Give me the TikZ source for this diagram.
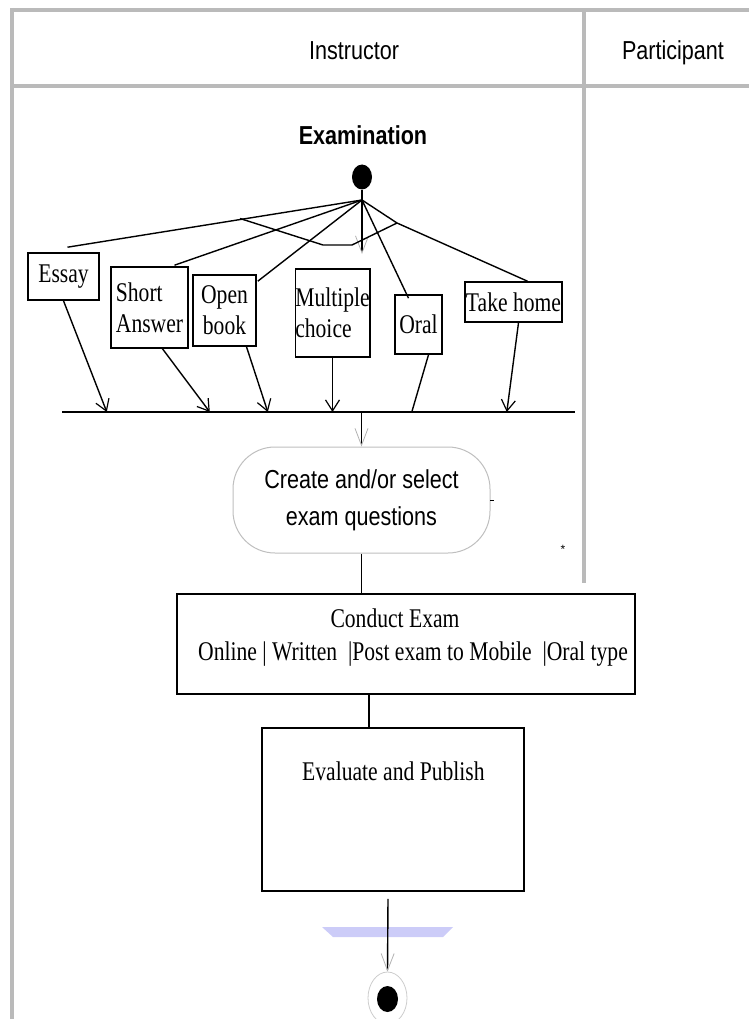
\documentclass[tikz,border=0pt]{standalone}
\usepackage{graphicx}
\usepackage{fontspec}
\setmainfont{Liberation Serif}
\newfontfamily\sansf{Liberation Sans}
\usetikzlibrary{arrows.meta,calc,shapes.geometric}
\newcommand\sqz[1]{\scalebox{0.8}[1]{#1}}
\newcommand\sqs[1]{\scalebox{0.83}[1]{#1}}
\newcommand\serifsz{\fontsize{27}{31}\selectfont}
\newcommand\sanssz{\sansf\fontsize{26}{37}\selectfont}
\definecolor{lav}{RGB}{204,204,248}
\begin{document}
\begin{tikzpicture}[x=1pt,y=-1pt,
  frame/.style={line width=3.5pt, draw=black!27},
  box/.style={draw, line width=1.6pt, inner sep=0pt, font=\serifsz},
  wire/.style={line width=1.4pt},
  tip/.style={-{Straight Barb[length=11pt,width=14pt,line width=1.2pt]}},
  gtip/.style={-{Straight Barb[length=17pt,width=13pt,line width=0.8pt,color=black!30]}},
  startdot/.style={ellipse, fill=black, inner sep=0pt, minimum width=20pt, minimum height=25pt},
  lbl/.style={inner sep=0pt}
]
\useasboundingbox (0,0) rectangle (749,1019);

% swimlane frame
\draw[frame] (10,10) -- (749,10);
\draw[frame] (12,8) -- (12,1019);
\draw[frame] (12,86) -- (749,86);
\draw[frame] (584,10) -- (584,583);

\node[lbl, anchor=base] (instr) at (354,60) {\sanssz\sqs{Instructor}};
\node[lbl, anchor=base] (part) at (673,60) {\sanssz\sqs{Participant}};
\node[lbl, anchor=base] (exam) at (363,145) {\sanssz\bfseries\sqs{Examination}};

% start node and fork
\node[startdot] (start) at (362,177) {};
\coordinate (fork) at (362,200);
\coordinate (mtop) at (362,254);
\coordinate (k1) at (240,218.5);
\coordinate (k2) at (323,245);
\coordinate (k3) at (352,245);
\coordinate (k4) at (397,223);

% exam type boxes
\node[box, minimum width=71pt, minimum height=47pt] (essay) at (63.5,276.5) {\sqz{Essay}};
\node[box, minimum width=77pt, minimum height=81pt, align=left] (short) at (149.5,307.5) {\sqz{Short}\\\sqz{Answer}};
\node[box, minimum width=63pt, minimum height=71pt, align=center] (open) at (224.5,310.5) {\sqz{Open}\\\sqz{book}};
\node[box, minimum width=71pt, minimum height=88pt, align=left] (multi) at (332.5,313) {\sqz{Multiple}\\\sqz{choice}};
\node[box, minimum width=47pt, minimum height=59pt] (oral) at (418.5,324.5) {\raisebox{-8pt}{\sqz{Oral}}};
\node[box, minimum width=97pt, minimum height=40pt] (take) at (513.5,302) {\sqz{Take home}};

% branches from the start
\draw[wire] (start.south) -- (fork);
\draw[wire, gtip] (fork) -- (mtop);
\draw[wire] (fork) -- ($(essay.north)+(4,-5)$);
\draw[wire] (k1) -- (k2) -- (k3) -- (k4);
\draw[wire] (fork) -- ($(short.north)+(25,-1)$);
\draw[wire] (fork) -- ($(open.north east)+(1,7)$);
\draw[wire] (fork) -- ($(oral.north)+(-10,4)$);
\draw[wire] (fork) -- (k4) -- ($(take.north)+(14,0)$);

% join bar
\node[fill=black, minimum width=513pt, minimum height=1.5pt, inner sep=0pt] (bar) at (318.5,412) {};
\draw[wire, tip] (essay.south) -- ($(bar.west)+(45,0)$);
\draw[wire, tip] ($(short.south)+(13,0)$) -- ($(bar.west)+(148,0)$);
\draw[wire, tip] ($(open.south)+(22,0)$) -- ($(bar.west)+(206,0)$);
\draw[wire, tip] (multi.south) -- (multi.south |- bar.center);
\draw[wire] ($(oral.south)+(10,0)$) -- ($(bar.west)+(350,0)$);
\draw[wire, tip] ($(take.south)+(5,0)$) -- ($(bar.west)+(445,0)$);

% create / select
\node[draw=black!25, line width=1pt, rounded corners=42pt, minimum width=257pt, minimum height=106pt, align=center, font=\sanssz] (create) at (361.5,500) {\sqs{Create and/or select}\\\sqs{exam questions}};
\draw[wire, gtip] (bar.center -| create.north) -- (create.north);
\draw[line width=1pt] (490,500) -- (494,500);
\node[lbl, font=\sansf\fontsize{12}{12}\selectfont] (ast) at (563,549) {*};

% conduct exam
\node[box, minimum width=458pt, minimum height=100pt] (conduct) at (406,644) {};
\node[lbl, font=\serifsz, anchor=base] (ce1) at (395,627) {\sqz{Conduct Exam}};
\node[lbl, font=\serifsz, anchor=base west] (ce2) at (198,660) {\sqz{Online | Written~~|Post exam to Mobile~~|Oral type}};
\draw[wire] (create.south) -- (create.south |- conduct.north);

% evaluate
\node[box, minimum width=262pt, minimum height=163pt] (eval) at (393,809.5) {};
\node[lbl, font=\serifsz, anchor=base west] (ev) at (302,780) {\sqz{Evaluate and Publish}};
\draw[wire] ($(conduct.south)+(-37,0)$) -- ($(eval.north)+(-24,0)$);

% end
\fill[lav] (322,927) -- (453,927) -- (443,937) -- (333,937) -- cycle;
\node[ellipse, draw=black!20, line width=0.8pt, minimum width=39pt, minimum height=52pt, inner sep=0pt] (endo) at (387.5,998) {};
\node[ellipse, fill=black, minimum width=21pt, minimum height=26pt, inner sep=0pt] (endi) at (387.5,999) {};
\draw[wire, gtip] ($(eval.south)+(-5,7)$) -- (endo.north);
\end{tikzpicture}
\end{document}
